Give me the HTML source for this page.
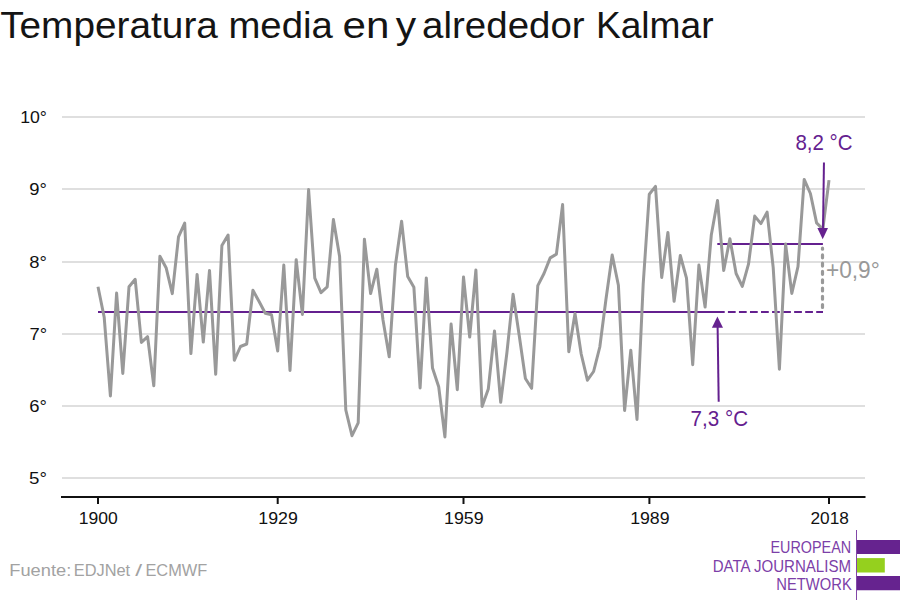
<!DOCTYPE html>
<html><head><meta charset="utf-8"><title>Temperatura media en y alrededor Kalmar</title>
<style>
html,body{margin:0;padding:0;background:#fff;}
body{width:900px;height:600px;overflow:hidden;font-family:"Liberation Sans",sans-serif;}
svg{display:block;font-family:"Liberation Sans",sans-serif;}
</style></head><body>
<svg width="900" height="600" viewBox="0 0 900 600">
<rect width="900" height="600" fill="#fff"/>
<g stroke="#dfdfdf" stroke-width="2"><line x1="62" x2="865" y1="117" y2="117"/><line x1="62" x2="865" y1="189" y2="189"/><line x1="62" x2="865" y1="262" y2="262"/><line x1="62" x2="865" y1="334" y2="334"/><line x1="62" x2="865" y1="406" y2="406"/><line x1="62" x2="865" y1="478" y2="478"/></g>
<line x1="98" x2="724.7" y1="312" y2="312" stroke="#64208f" stroke-width="2"/>
<line x1="727.9" x2="823" y1="312" y2="312" stroke="#64208f" stroke-width="2" stroke-dasharray="7.75 3.29"/>
<line x1="717.3" x2="822.9" y1="244" y2="244" stroke="#64208f" stroke-width="2"/>
<polyline fill="none" stroke="#999" stroke-width="3" stroke-linejoin="round" points="98.0,286.8 104.2,317.3 110.4,396.0 116.6,293.1 122.8,373.4 129.0,286.8 135.2,279.3 141.4,342.4 147.6,336.7 153.8,385.8 159.9,256.2 166.1,267.7 172.3,293.6 178.5,236.9 184.7,223.1 190.9,353.6 197.1,274.4 203.3,342.1 209.5,270.4 215.7,374.3 221.9,245.5 228.1,235.0 234.3,360.3 240.5,346.5 246.7,344.0 252.9,290.3 259.1,301.5 265.3,313.2 271.5,314.8 277.7,351.0 283.8,265.1 290.0,370.4 296.2,259.7 302.4,314.4 308.6,189.5 314.8,278.2 321.0,292.7 327.2,286.8 333.4,219.6 339.6,256.5 345.8,410.0 352.0,435.7 358.2,422.8 364.4,239.2 370.6,293.6 376.8,269.3 383.0,320.0 389.2,356.8 395.4,265.3 401.6,221.2 407.7,276.5 413.9,287.3 420.1,387.9 426.3,277.9 432.5,368.0 438.7,386.7 444.9,436.9 451.1,324.1 457.3,389.7 463.5,277.0 469.7,337.0 475.9,270.0 482.1,406.5 488.3,389.0 494.5,330.9 500.7,402.3 506.9,352.8 513.1,294.2 519.3,336.0 525.4,378.5 531.6,388.3 537.8,285.6 544.0,273.5 550.2,257.9 556.4,254.1 562.6,204.6 568.8,351.7 575.0,313.4 581.2,354.0 587.4,380.2 593.6,371.5 599.8,347.0 606.0,299.0 612.2,255.0 618.4,285.2 624.6,410.5 630.8,350.2 637.0,419.4 643.2,284.0 649.3,194.2 655.5,186.4 661.7,277.5 667.9,232.4 674.1,301.3 680.3,255.5 686.5,278.2 692.7,364.7 698.9,265.1 705.1,307.1 711.3,235.0 717.5,200.4 723.7,270.5 729.9,238.7 736.1,273.5 742.3,286.4 748.5,264.2 754.7,216.1 760.9,223.6 767.1,212.1 773.2,267.7 779.4,369.2 785.6,244.1 791.8,293.4 798.0,266.5 804.2,179.4 810.4,193.5 816.6,222.9 822.8,229.2 829.0,180.1"/>
<g stroke="#999" stroke-width="3.2" stroke-linecap="round">
<line x1="822.5" x2="822.5" y1="248.1" y2="249.2"/>
<line x1="822.5" x2="822.5" y1="254.9" y2="307.4" stroke-dasharray="2.9 5.38"/>
</g>
<line x1="823.95" x2="823" y1="162.5" y2="230" stroke="#64208f" stroke-width="2"/>
<polygon points="817.4,228 828.0,228 822.7,239.3" fill="#66228f"/>
<line x1="718.7" x2="717.6" y1="401.8" y2="326" stroke="#64208f" stroke-width="2"/>
<polygon points="711.9,327.8 723.0,327.8 717.4,316.5" fill="#66228f"/>
<line x1="61" x2="865.5" y1="497" y2="497" stroke="#111" stroke-width="2"/>
<g stroke="#111" stroke-width="2"><line x1="98" x2="98" y1="497" y2="504"/><line x1="277.7" x2="277.7" y1="497" y2="504"/><line x1="463.5" x2="463.5" y1="497" y2="504"/><line x1="649.4" x2="649.4" y1="497" y2="504"/><line x1="829" x2="829" y1="497" y2="504"/></g>
<text x="0.15" y="38" font-size="36.5" fill="#141414" textLength="217.76" lengthAdjust="spacingAndGlyphs">Temperatura</text>
<text x="228.45" y="38" font-size="36.5" fill="#141414" textLength="104.33" lengthAdjust="spacingAndGlyphs">media</text>
<text x="342.6" y="38" font-size="36.5" fill="#141414" textLength="46.92" lengthAdjust="spacingAndGlyphs">en</text>
<text x="395.65" y="38" font-size="36.5" fill="#141414" textLength="20.38" lengthAdjust="spacingAndGlyphs">y</text>
<text x="422.14" y="38" font-size="36.5" fill="#141414" textLength="162.51" lengthAdjust="spacingAndGlyphs">alrededor</text>
<text x="595.93" y="38" font-size="36.5" fill="#141414" textLength="117.64" lengthAdjust="spacingAndGlyphs">Kalmar</text>
<text x="795.41" y="149.7" font-size="21.6" fill="#64208f" textLength="57.15" lengthAdjust="spacingAndGlyphs">8,2 °C</text>
<text x="690.58" y="426.0" font-size="21.6" fill="#64208f" textLength="57.42" lengthAdjust="spacingAndGlyphs">7,3 °C</text>
<text x="825.94" y="277.8" font-size="23" fill="#999" textLength="53.86" lengthAdjust="spacingAndGlyphs">+0,9°</text>
<text x="9.24" y="576" font-size="16.8" fill="#a2a2a2" textLength="61.99" lengthAdjust="spacingAndGlyphs">Fuente:</text>
<text x="73.78" y="576" font-size="16.8" fill="#a2a2a2" textLength="56.39" lengthAdjust="spacingAndGlyphs">EDJNet</text>
<text x="135.15" y="576" font-size="16.8" fill="#a2a2a2" textLength="6.89" lengthAdjust="spacingAndGlyphs">/</text>
<text x="145.42" y="576" font-size="16.8" fill="#a2a2a2" textLength="61.92" lengthAdjust="spacingAndGlyphs">ECMWF</text>
<text x="20.15" y="122.8" font-size="16" fill="#111" textLength="26.73" lengthAdjust="spacingAndGlyphs">10°</text>
<text x="29.35" y="194.8" font-size="16" fill="#111" textLength="17.59" lengthAdjust="spacingAndGlyphs">9°</text>
<text x="29.33" y="267.8" font-size="16" fill="#111" textLength="17.59" lengthAdjust="spacingAndGlyphs">8°</text>
<text x="29.49" y="339.8" font-size="16" fill="#111" textLength="17.59" lengthAdjust="spacingAndGlyphs">7°</text>
<text x="29.3" y="411.8" font-size="16" fill="#111" textLength="17.62" lengthAdjust="spacingAndGlyphs">6°</text>
<text x="29.11" y="483.8" font-size="16" fill="#111" textLength="17.88" lengthAdjust="spacingAndGlyphs">5°</text>
<text x="78.72" y="524" font-size="16" fill="#111" textLength="39.0" lengthAdjust="spacingAndGlyphs">1900</text>
<text x="258.37" y="524" font-size="16" fill="#111" textLength="39.53" lengthAdjust="spacingAndGlyphs">1929</text>
<text x="444.03" y="524" font-size="16" fill="#111" textLength="39.63" lengthAdjust="spacingAndGlyphs">1959</text>
<text x="630.15" y="524" font-size="16" fill="#111" textLength="39.44" lengthAdjust="spacingAndGlyphs">1989</text>
<text x="810.53" y="524" font-size="16" fill="#111" textLength="38.39" lengthAdjust="spacingAndGlyphs">2018</text>
<text x="770.5" y="553.3" font-size="16.5" fill="#7c40a8" textLength="80.58" lengthAdjust="spacingAndGlyphs">EUROPEAN</text>
<text x="712.63" y="572.2" font-size="16.5" fill="#7c40a8" textLength="138.4" lengthAdjust="spacingAndGlyphs">DATA JOURNALISM</text>
<text x="776.28" y="590.4" font-size="16.5" fill="#7c40a8" textLength="75.48" lengthAdjust="spacingAndGlyphs">NETWORK</text>
<line x1="856.5" x2="856.5" y1="530" y2="600" stroke="#8247a8" stroke-width="1"/>
<rect x="857" y="540" width="43" height="14" fill="#66238f"/>
<rect x="857" y="558.1" width="27.8" height="14.4" fill="#95d01e"/>
<rect x="857" y="576" width="43" height="14.25" fill="#66238f"/>
</svg>
</body></html>
